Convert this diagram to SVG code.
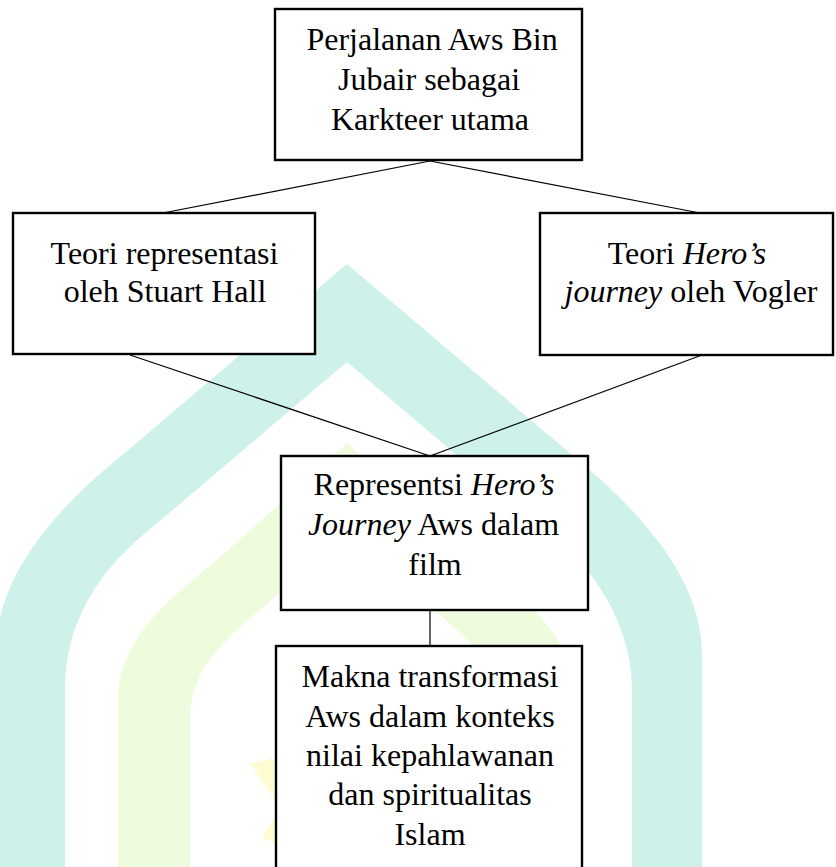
<svg xmlns="http://www.w3.org/2000/svg" width="836" height="867" viewBox="0 0 836 867">
<style>
.box{fill:#fff;stroke:#000;stroke-width:2.4}
.t{font-family:"Liberation Serif","Times New Roman",serif;font-size:32px;fill:#000;text-anchor:middle}
.i{font-style:italic}
.c{stroke:#000;stroke-width:1.2;fill:none}
</style>
<rect width="836" height="867" fill="#fff"/>
<g id="watermark">
<path fill="#cef1ea" d="M -2,867 L -2,640 C -2,575 60,505 120,457 L 347,264 L 585,466 C 650,521 702,585 702,655 L 702,867 L 632,867 L 632,690 C 632,630 600,577 560,543 L 347,362 L 143,535 C 100,572 65,620 65,690 L 65,867 Z"/>
<path fill="#eefbdd" d="M 118,867 L 118,700 C 118,630 185,589 235,544 L 347,443 L 459,544 C 509,589 576,630 576,700 L 576,867 L 504,867 L 504,720 C 504,660 459,633 409,588 L 347,533 L 285,588 C 235,633 190,660 190,720 L 190,867 Z"/>
<polygon fill="#fffcd2" points="280,757 250,763 280,808 262,838 280,845"/>
</g>
<g id="connectors">
<line class="c" x1="430" y1="161" x2="163" y2="213"/>
<line class="c" x1="430" y1="161" x2="700" y2="213"/>
<line class="c" x1="130" y1="355" x2="430" y2="456"/>
<line class="c" x1="702" y1="355" x2="430" y2="456"/>
<line class="c" x1="430" y1="610" x2="430" y2="646"/>
</g>
<g id="n1">
<rect class="box" x="275" y="9" width="307" height="151"/>
<text class="t" x="432" y="50">Perjalanan Aws Bin</text>
<text class="t" x="429" y="90">Jubair sebagai</text>
<text class="t" x="430" y="130">Karkteer utama</text>
</g>
<g id="n2">
<rect class="box" x="13" y="213" width="302" height="141"/>
<text class="t" x="164.5" y="264">Teori representasi</text>
<text class="t" x="165" y="302">oleh Stuart Hall</text>
</g>
<g id="n3">
<rect class="box" x="540" y="213" width="293" height="142"/>
<text class="t" x="687" y="264">Teori <tspan class="i">Hero’s</tspan></text>
<text class="t" x="691" y="302"><tspan class="i">journey</tspan> oleh Vogler</text>
</g>
<g id="n4">
<rect class="box" x="281" y="456" width="307" height="154"/>
<text class="t" x="434" y="495">Representsi <tspan class="i">Hero’s</tspan></text>
<text class="t" x="433.5" y="535"><tspan class="i">Journey</tspan> Aws dalam</text>
<text class="t" x="435" y="575">film</text>
</g>
<g id="n5">
<rect class="box" x="276" y="646" width="306" height="240"/>
<text class="t" x="430" y="687">Makna transformasi</text>
<text class="t" x="430" y="727">Aws dalam konteks</text>
<text class="t" x="430" y="766">nilai kepahlawanan</text>
<text class="t" x="430" y="805">dan spiritualitas</text>
<text class="t" x="430" y="845">Islam</text>
</g>
</svg>
